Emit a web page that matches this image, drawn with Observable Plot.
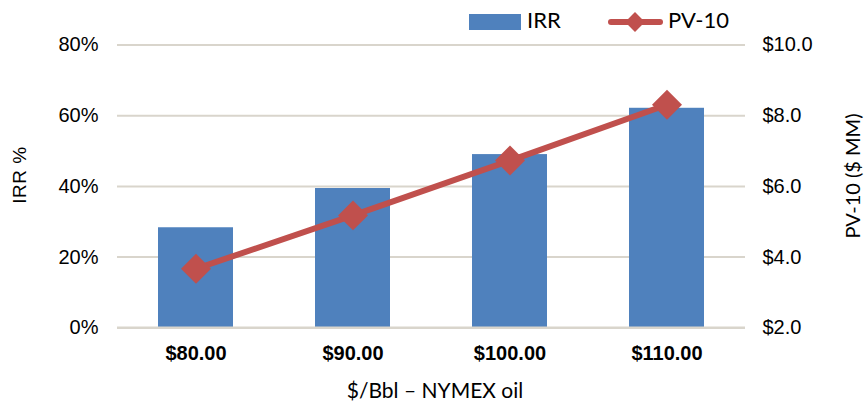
<!DOCTYPE html>
<html><head><meta charset="utf-8">
<script src="https://cdn.jsdelivr.net/npm/d3@7"></script>
<script src="https://cdn.jsdelivr.net/npm/@observablehq/plot@0.6"></script>
<style>
body{margin:0;background:#fff;}
#wrap{position:relative;width:864px;height:401px;overflow:hidden;}
.abs{position:absolute;white-space:nowrap;color:#000;}
.cal{font-family:Lato,"Open Sans",sans-serif;}
.ari{font-family:"Liberation Sans",Arial,sans-serif;}
</style></head><body>
<div id="wrap"></div>
<script>
const prices = ["$80.00", "$90.00", "$100.00", "$110.00"];
const irrValues = [28.3, 39.4, 49.0, 62.1];
const pv10Values = [3.67, 5.18, 6.73, 8.31];
const irrTicks = [0, 20, 40, 60, 80];
const pvTicks = [2, 4, 6, 8, 10];
const seriesNames = ["IRR", "PV-10"];

const blue = "#4F81BD", red = "#C0504D", grid = "#D9D5CC";
// PV-10 mapped onto the IRR scale: $2.0 -> 0%, $10.0 -> 80%
const pvToY = p => (p - 2) * 10;
const data = prices.map((p, i) => ({price: p, irr: irrValues[i], pv: pv10Values[i]}));

const chart = Plot.plot({
  width: 864, height: 401,
  marginTop: 44.5, marginBottom: 73.7, marginLeft: 117, marginRight: 119,
  style: {fontFamily: '"Liberation Sans", Arial, sans-serif', fontSize: "20px", color: "#000", background: "#fff"},
  x: {domain: prices, paddingInner: 0.52, paddingOuter: 0.26},
  y: {domain: [0, 80]},
  marks: [
    Plot.ruleY(irrTicks.filter(d => d > 0), {stroke: grid, strokeWidth: 2}),
    Plot.barY(data, {x: "price", y: "irr", fill: blue}),
    Plot.ruleY([0], {stroke: grid, strokeWidth: 2.5}),
    Plot.line(data, {x: "price", y: d => pvToY(d.pv), stroke: red, strokeWidth: 6}),
    Plot.dot(data, {x: "price", y: d => pvToY(d.pv), symbol: "diamond2", r: 13.5, fill: red, stroke: "none"}),
    Plot.axisX({tickSize: 0, tickPadding: 18, fontWeight: "bold", fontSize: 20, label: null}),
    Plot.axisY(irrTicks, {anchor: "left", tickSize: 0, tickPadding: 19, tickFormat: d => d + "%", label: null}),
    Plot.axisY(pvTicks.map(pvToY), {anchor: "right", tickSize: 0, tickPadding: 17, tickFormat: d => "$" + (d / 10 + 2).toFixed(1), label: null})
  ]
});
const wrap = document.getElementById("wrap");
wrap.appendChild(chart);

function addDiv(html, cls, css) {
  const d = document.createElement("div");
  d.className = "abs " + cls;
  d.innerHTML = html;
  Object.assign(d.style, css);
  wrap.appendChild(d);
  return d;
}
// legend
addDiv("", "", {left: "469px", top: "14px", width: "52px", height: "16px", background: blue});
addDiv(seriesNames[0], "cal", {left: "527px", top: "4px", fontSize: "22px", lineHeight: "32px"});
addDiv("", "", {left: "608px", top: "19px", width: "55px", height: "6px", background: red, borderRadius: "3px"});
addDiv("", "", {left: "628px", top: "15px", width: "14px", height: "14px", background: red, transform: "rotate(45deg)"});
addDiv(seriesNames[1], "cal", {left: "668px", top: "4px", fontSize: "22px", lineHeight: "32px"});
// axis titles
addDiv("IRR %", "ari", {left: "20px", top: "175px", fontSize: "19px", letterSpacing: "0.5px", transform: "translate(-50%,-50%) rotate(-90deg)"});
addDiv("PV-10 ($ MM)", "cal", {left: "852px", top: "176px", fontSize: "20px", transform: "translate(-50%,-50%) rotate(-90deg)"});
addDiv("$/Bbl – NYMEX oil", "cal", {left: "435px", top: "389px", fontSize: "21px", transform: "translate(-50%,-50%)"});
</script>
</body></html>
